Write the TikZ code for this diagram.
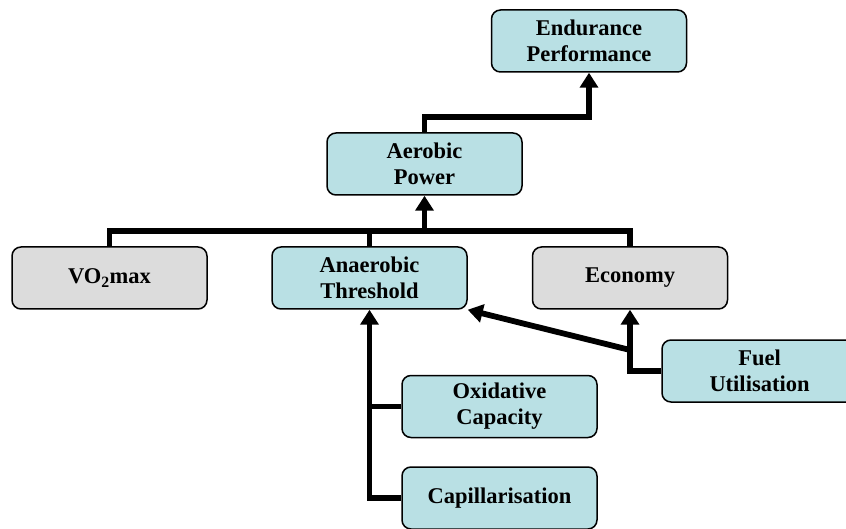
\documentclass[tikz,border=0pt]{standalone}
\usepackage{fontspec}
\setmainfont{Liberation Serif}
\usetikzlibrary{arrows.meta, positioning}
\definecolor{boxteal}{RGB}{185,224,228}
\definecolor{boxgrey}{RGB}{220,220,220}

\begin{document}
\begin{tikzpicture}[x=1pt, y=-1pt, >={Triangle[length=15pt,width=18pt]}]
  \tikzset{
    factor/.style={draw, line width=1.5pt, rounded corners=9pt, fill=boxteal,
      minimum width=195pt, minimum height=62pt, align=center, inner sep=0pt,
      font=\bfseries\fontsize{22.5}{26}\selectfont},
    greyfactor/.style={factor, fill=boxgrey},
    link/.style={line width=5.8pt, miter limit=10}
  }
  \useasboundingbox (0,0) rectangle (846,529);
  % top of the tree
  \node[factor] (endur) at (589,41) {Endurance\\Performance};
  \node[factor] (aero) at (424.5,164) {Aerobic\\Power};
  % middle row
  \node[greyfactor] (vo2) at (109.5,278) {VO\textsubscript{2}max};
  \node[factor] (anaer) at (369.5,278) {Anaerobic\\Threshold};
  \node[greyfactor] (econ) at (630,278) {Economy};
  % lower factors
  \node[factor] (fuel) at (759.5,371) {Fuel\\Utilisation};
  \node[factor] (oxid) at (499.5,406.5) {Oxidative\\Capacity};
  \node[factor] (capil) at (499.5,498) {Capillarisation};
  % junction points
  \coordinate (bend) at (424.5,117);
  \coordinate (bus) at (424.5,231);
  \coordinate (fork) at (630,350);
  \coordinate (oxjoin) at (369.5,406.5);
  % connectors
  \draw[link,->] (aero.north) -- (bend) -| (endur.south);
  \draw[link] (vo2.north) -- (vo2.north |- bus) -- (econ.north |- bus) -- (econ.north);
  \draw[link] (anaer.north) -- (anaer.north |- bus);
  \draw[link,->] (bus) -- (aero.south);
  \draw[link,->] (fuel.west) -| (econ.south);
  \draw[link,->] (fork) -- (anaer.south east);
  \draw[link,->] (capil.west) -| (anaer.south);
  \draw[link] (oxid.west) -- (oxjoin);
\end{tikzpicture}
\end{document}
